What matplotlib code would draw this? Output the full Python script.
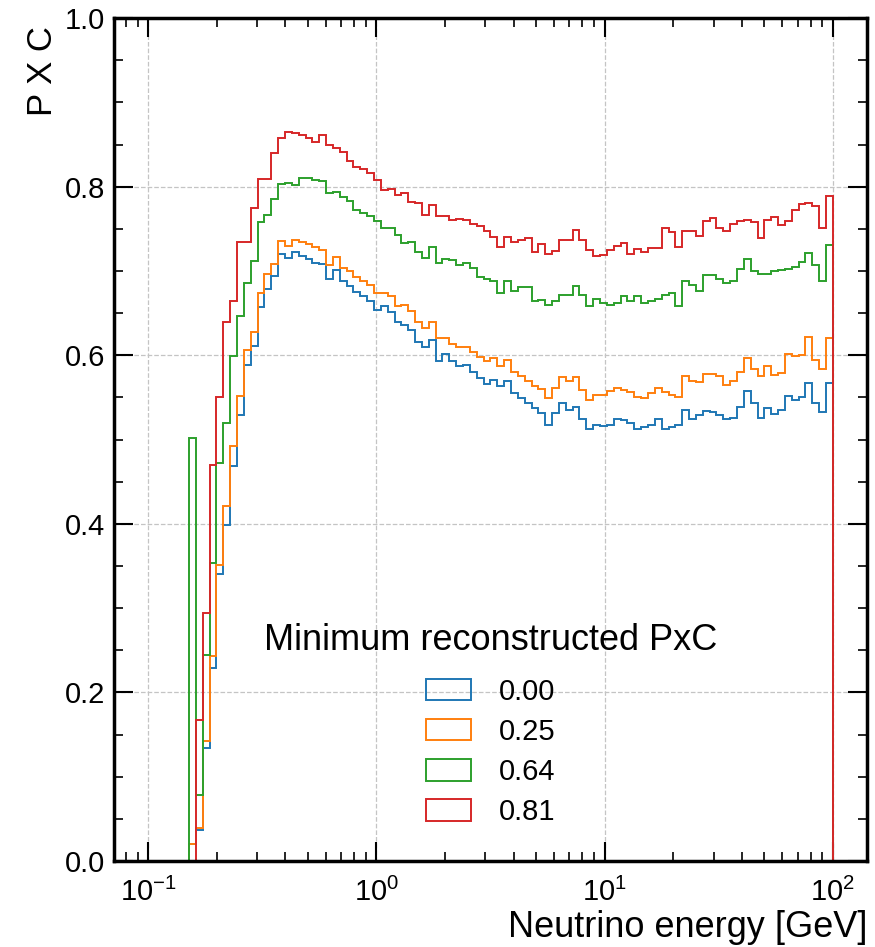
import numpy as np
import matplotlib
matplotlib.use("Agg")
import matplotlib.pyplot as plt
from matplotlib.patches import Patch
from matplotlib.ticker import LogLocator, MultipleLocator, NullFormatter

plt.rcParams['font.family'] = ['Liberation Sans', 'DejaVu Sans']
plt.rcParams['mathtext.fontset'] = 'custom'
plt.rcParams['mathtext.rm'] = 'Liberation Sans'
plt.rcParams['mathtext.it'] = 'Liberation Sans:italic'

# ---- data ----
bin_edges = np.logspace(-1, 2, 101)

labels = ["0.00", "0.25", "0.64", "0.81"]
colors = ["#1f77b4", "#ff7f0e", "#2ca02c", "#d62728"]
legend_title = "Minimum reconstructed PxC"

pxc_000 = [0, 0, 0, 0, 0, 0, 0.020, 0.037, 0.134, 0.229,
           0.341, 0.399, 0.469, 0.529, 0.589, 0.611, 0.657, 0.679, 0.694, 0.720,
           0.715, 0.722, 0.718, 0.714, 0.710, 0.708, 0.690, 0.701, 0.688, 0.682,
           0.675, 0.670, 0.665, 0.654, 0.658, 0.651, 0.639, 0.636, 0.630, 0.616,
           0.610, 0.618, 0.593, 0.601, 0.593, 0.587, 0.588, 0.580, 0.573, 0.566,
           0.571, 0.564, 0.570, 0.555, 0.549, 0.544, 0.537, 0.531, 0.517, 0.531,
           0.544, 0.535, 0.539, 0.525, 0.513, 0.517, 0.516, 0.517, 0.525, 0.523,
           0.520, 0.513, 0.515, 0.517, 0.525, 0.512, 0.515, 0.517, 0.535, 0.524,
           0.529, 0.534, 0.533, 0.529, 0.525, 0.526, 0.539, 0.558, 0.543, 0.526,
           0.537, 0.530, 0.535, 0.552, 0.547, 0.551, 0.567, 0.543, 0.533, 0.567]

pxc_025 = [0, 0, 0, 0, 0, 0, 0.020, 0.039, 0.142, 0.243,
           0.351, 0.421, 0.492, 0.552, 0.606, 0.628, 0.674, 0.696, 0.708, 0.736,
           0.730, 0.737, 0.735, 0.732, 0.729, 0.725, 0.707, 0.717, 0.704, 0.700,
           0.693, 0.688, 0.684, 0.674, 0.674, 0.670, 0.658, 0.660, 0.652, 0.640,
           0.632, 0.639, 0.620, 0.620, 0.614, 0.610, 0.610, 0.604, 0.598, 0.593,
           0.597, 0.587, 0.594, 0.580, 0.575, 0.569, 0.563, 0.560, 0.549, 0.561,
           0.574, 0.570, 0.574, 0.559, 0.547, 0.553, 0.553, 0.558, 0.561, 0.559,
           0.557, 0.551, 0.549, 0.555, 0.561, 0.556, 0.553, 0.550, 0.575, 0.569,
           0.568, 0.578, 0.578, 0.575, 0.565, 0.569, 0.580, 0.597, 0.584, 0.575,
           0.587, 0.577, 0.579, 0.601, 0.599, 0.600, 0.622, 0.595, 0.584, 0.620]

pxc_064 = [0, 0, 0, 0, 0, 0, 0.502, 0.078, 0.245, 0.353,
           0.472, 0.520, 0.599, 0.647, 0.686, 0.712, 0.758, 0.767, 0.785, 0.803,
           0.804, 0.802, 0.810, 0.810, 0.808, 0.807, 0.792, 0.794, 0.788, 0.783,
           0.773, 0.769, 0.765, 0.759, 0.751, 0.751, 0.743, 0.733, 0.735, 0.723,
           0.716, 0.728, 0.710, 0.714, 0.713, 0.707, 0.710, 0.704, 0.693, 0.690,
           0.688, 0.674, 0.688, 0.676, 0.681, 0.681, 0.664, 0.666, 0.660, 0.665,
           0.672, 0.672, 0.682, 0.672, 0.659, 0.667, 0.662, 0.660, 0.662, 0.670,
           0.664, 0.670, 0.662, 0.664, 0.667, 0.672, 0.674, 0.658, 0.688, 0.684,
           0.676, 0.695, 0.695, 0.691, 0.686, 0.688, 0.703, 0.714, 0.700, 0.697,
           0.697, 0.700, 0.701, 0.702, 0.705, 0.711, 0.721, 0.707, 0.688, 0.731]

pxc_081 = [0, 0, 0, 0, 0, 0, 0, 0.167, 0.294, 0.470,
           0.550, 0.639, 0.664, 0.735, 0.735, 0.775, 0.809, 0.809, 0.840, 0.858,
           0.865, 0.864, 0.861, 0.858, 0.853, 0.861, 0.850, 0.846, 0.841, 0.830,
           0.823, 0.821, 0.816, 0.808, 0.796, 0.797, 0.790, 0.792, 0.782, 0.781,
           0.767, 0.778, 0.765, 0.765, 0.760, 0.762, 0.761, 0.756, 0.753, 0.748,
           0.740, 0.729, 0.740, 0.735, 0.737, 0.739, 0.722, 0.732, 0.720, 0.724,
           0.737, 0.737, 0.749, 0.737, 0.725, 0.718, 0.719, 0.725, 0.730, 0.733,
           0.720, 0.726, 0.723, 0.727, 0.727, 0.751, 0.746, 0.729, 0.747, 0.747,
           0.742, 0.759, 0.763, 0.751, 0.748, 0.756, 0.759, 0.761, 0.758, 0.739,
           0.761, 0.764, 0.755, 0.759, 0.773, 0.780, 0.781, 0.777, 0.751, 0.789]

series = [pxc_000, pxc_025, pxc_064, pxc_081]

# ---- plot ----
fig = plt.figure(figsize=(8.75, 9.47), dpi=100)
ax = fig.add_axes([0.130, 0.0908, 0.861, 0.890])

for vals, c in zip(series, colors):
    ax.stairs(vals, bin_edges, baseline=0, color=c, linewidth=1.4)

ax.set_xscale("log")
ax.set_ylim(0, 1.0)
ax.margins(x=0.05)

ax.yaxis.set_major_locator(MultipleLocator(0.2))
ax.yaxis.set_minor_locator(MultipleLocator(0.05))
ax.xaxis.set_major_locator(LogLocator(base=10, numticks=10))
ax.xaxis.set_minor_locator(LogLocator(base=10, subs=np.arange(2, 10), numticks=20))
ax.xaxis.set_minor_formatter(NullFormatter())
ax.yaxis.set_major_formatter(matplotlib.ticker.FormatStrFormatter('%.1f'))

ax.tick_params(which='both', direction='in', top=True, right=True, labelsize=21)
ax.tick_params(which='major', length=14, width=1.5, pad=6)
ax.tick_params(which='minor', length=6.5, width=1.2)
ax.tick_params(axis='x', which='major', pad=12)
for s in ax.spines.values():
    s.set_linewidth(2.5)

ax.grid(True, which='major', linestyle='--', color='#c4c4c4', linewidth=0.9)
ax.set_axisbelow(True)

ax.set_xlabel("Neutrino energy [GeV]", fontsize=26, ha='right', x=1.0, labelpad=2)
ax.set_ylabel("P X C", fontsize=25, ha='right', y=0.99)

handles = [Patch(facecolor='none', edgecolor=c, linewidth=1.4) for c in colors]
leg = ax.legend(handles, labels, title=legend_title, loc='lower center',
                bbox_to_anchor=(0.5, 0.01), frameon=False, fontsize=21,
                title_fontsize=26, handlelength=1.55, handleheight=0.75,
                labelspacing=0.42, handletextpad=0.95)
leg._legend_box.sep = 14

fig.savefig("out.png", dpi=100)
